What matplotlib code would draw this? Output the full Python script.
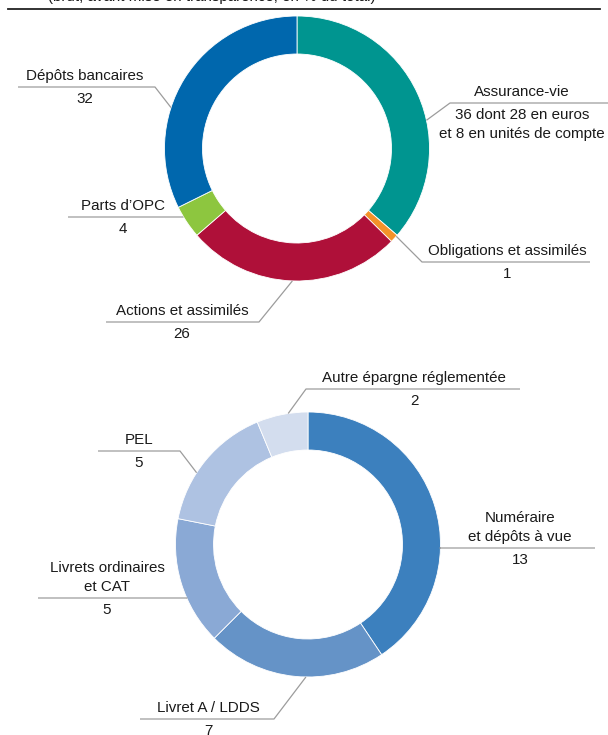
import numpy as np
import matplotlib
matplotlib.use("Agg")
import matplotlib.pyplot as plt

plt.rcParams['font.family'] = ['Liberation Sans', 'DejaVu Sans']

# ---------------- data ----------------
title = "(brut, avant mise en transparence, en % du total)"

top_labels = ["Assurance-vie", "Obligations et assimilés", "Actions et assimilés",
              "Parts d\u2019OPC", "Dépôts bancaires"]
top_values = [36, 1, 26, 4, 32]
av_euros = 28
av_uc = 8
top_colors = ["#009590", "#F39229", "#AF1039", "#8DC63F", "#0067AD"]

bottom_labels = ["Numéraire\net dépôts à vue", "Livret A / LDDS",
                 "Livrets ordinaires\net CAT", "PEL", "Autre épargne réglementée"]
bottom_values = [13, 7, 5, 5, 2]
bottom_colors = ["#3C80BE", "#6593C7", "#8AA9D5", "#AEC2E2", "#D3DDEE"]

# ---------------- layout ----------------
W, H = 608, 735
fig = plt.figure(figsize=(W / 100, H / 100), dpi=100)
ax = fig.add_axes([0, 0, 1, 1])

R = 132.5
RING = 38
TXT = "#1a1a1a"
LINE = "#9c9c9c"
FS = 10.9

top_center = (297, 148.5)
bot_center = (308, 544.5)

# label layout: text center x, underline y, underline x0, x1, anchor angle (deg clockwise from top)
top_layout = [
    dict(tx=522, uy=103, x0=450, x1=608, ang=77.7),
    dict(tx=507, uy=262, x0=422, x1=590, ang=131.5),
    dict(tx=182, uy=322, x0=106, x1=259, ang=182.0),
    dict(tx=123, uy=217, x0=68, x1=183, ang=239.0),
    dict(tx=85, uy=87, x0=18, x1=155, ang=288.0),
]
bot_layout = [
    dict(tx=520, uy=548, x0=440, x1=595, ang=91.5),
    dict(tx=208, uy=719, x0=140, x1=274, ang=180.9),
    dict(tx=107, uy=598, x0=38, x1=187, ang=246.0),
    dict(tx=139, uy=451, x0=98, x1=180, ang=302.8),
    dict(tx=414, uy=389, x0=306, x1=520, ang=351.4),
]


def Y(y):
    return H - y


def donut(values, colors, center):
    ax.pie(values, colors=colors, startangle=90, counterclock=False,
           radius=R, center=(center[0], Y(center[1])),
           wedgeprops=dict(width=RING, edgecolor="white", linewidth=0.6))


def label(name, value_lines, lay, center):
    cx, cy = center
    a = np.deg2rad(lay["ang"])
    axp = cx + R * np.sin(a)
    ayp = cy - R * np.cos(a)
    uy = lay["uy"]
    # knee is the underline end nearest the ring
    if abs(lay["x0"] - axp) < abs(lay["x1"] - axp):
        xs = [axp, lay["x0"], lay["x1"]]
        ys = [ayp, uy, uy]
    else:
        xs = [lay["x0"], lay["x1"], axp]
        ys = [uy, uy, ayp]
    ax.plot(xs, [Y(v) for v in ys], color=LINE, lw=0.9, solid_capstyle="butt", zorder=1)
    name_lines = name.split("\n")
    for i, ln in enumerate(reversed(name_lines)):
        ax.text(lay["tx"], Y(uy - 11 - 18.5 * i), ln, ha="center", va="center",
                fontsize=FS, color=TXT)
    for i, ln in enumerate(value_lines):
        ax.text(lay["tx"], Y(uy + 12 + 19 * i), ln, ha="center", va="center",
                fontsize=FS, color=TXT)


donut(top_values, top_colors, top_center)
donut(bottom_values, bottom_colors, bot_center)

for i, (nm, v) in enumerate(zip(top_labels, top_values)):
    if i == 0:
        vals = [f"{v} dont {av_euros} en euros", f"et {av_uc} en unités de compte"]
    else:
        vals = [str(v)]
    label(nm, vals, top_layout[i], top_center)

for i, (nm, v) in enumerate(zip(bottom_labels, bottom_values)):
    label(nm, [str(v)], bot_layout[i], bot_center)

# cut-off title and rule
ax.text(48, Y(1), title, ha="left", va="baseline", fontsize=FS, color=TXT)
ax.plot([8, 600], [Y(9), Y(9)], color="#222222", lw=1.3)

ax.set_xlim(0, W)
ax.set_ylim(0, H)
ax.set_aspect("auto")
ax.axis("off")

fig.savefig("out.png", dpi=100)
